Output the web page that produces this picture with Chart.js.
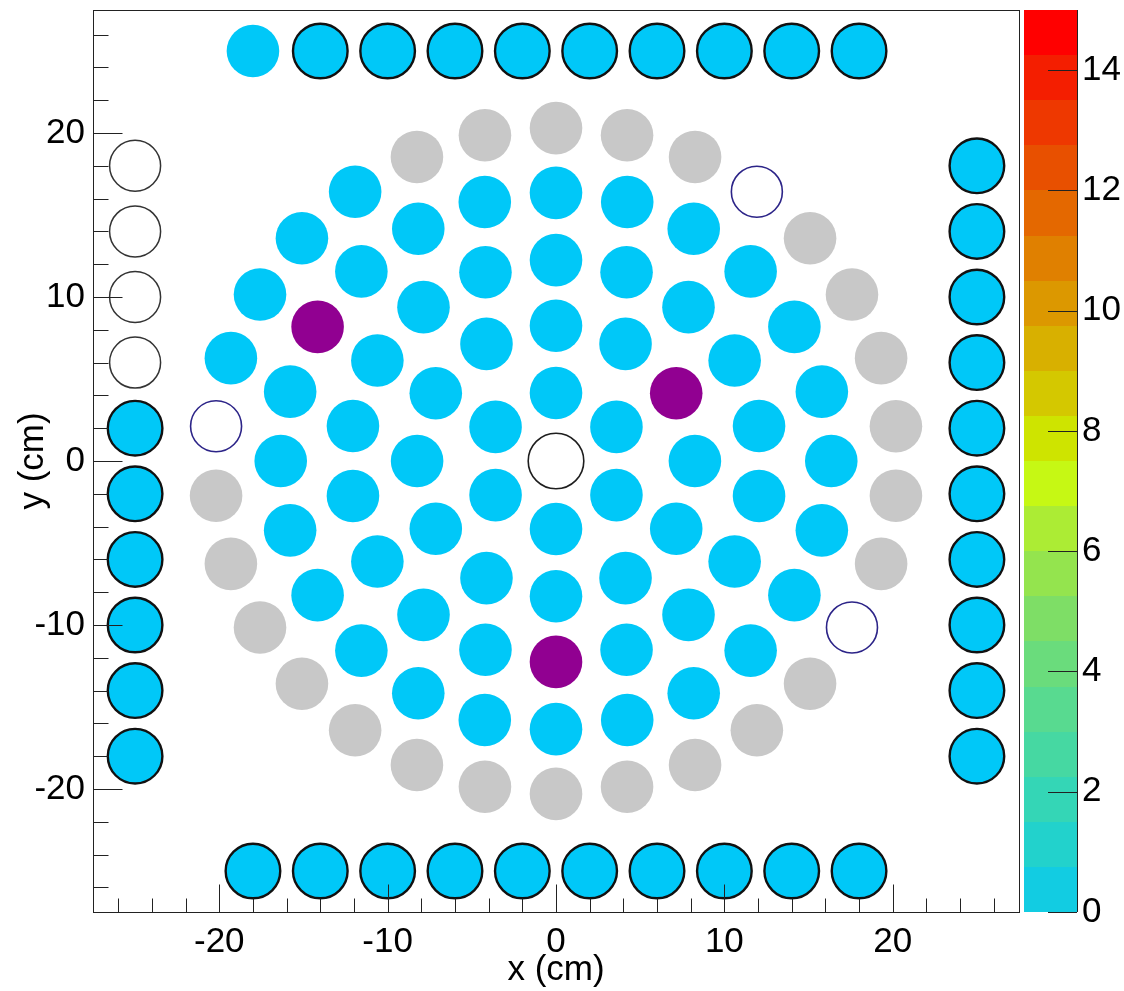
<!DOCTYPE html>
<html>
<head>
<meta charset="utf-8">
<script src="https://cdn.jsdelivr.net/npm/chart.js@4.4.1/dist/chart.umd.min.js"></script>
<style>
  html, body { margin: 0; padding: 0; background: #fff; }
</style>
</head>
<body>
<canvas id="c" width="1124" height="991"></canvas>
<script>
// pad centres (cm) and what each pad looks like, ring by ring
var ring1X = [0, -3.59, -3.59, 0, 3.59, 3.59];
var ring1Y = [4.15, 2.08, -2.08, -4.15, -2.08, 2.08];
var ring1Kind = ['cyan', 'cyan', 'cyan', 'cyan', 'cyan', 'cyan'];

var ring2X = [0, -4.13, -7.14, -8.25, -7.14, -4.13, 0, 4.13, 7.14, 8.25, 7.14, 4.13];
var ring2Y = [8.25, 7.14, 4.13, 0, -4.13, -7.14, -8.25, -7.14, -4.13, 0, 4.13, 7.14];
var ring2Kind = ['cyan', 'cyan', 'cyan', 'cyan', 'cyan', 'cyan', 'cyan', 'cyan', 'cyan', 'cyan', 'purple', 'cyan'];

var ring3X = [0, -4.19, -7.87, -10.61, -12.06, -12.06, -10.61, -7.87, -4.19, 0, 4.19, 7.87, 10.61, 12.06, 12.06, 10.61, 7.87, 4.19];
var ring3Y = [12.25, 11.51, 9.38, 6.13, 2.13, -2.13, -6.13, -9.38, -11.51, -12.25, -11.51, -9.38, -6.13, -2.13, 2.13, 6.13, 9.38, 11.51];
var ring3Kind = ['cyan', 'cyan', 'cyan', 'cyan', 'cyan', 'cyan', 'cyan', 'cyan', 'cyan', 'purple',
                 'cyan', 'cyan', 'cyan', 'cyan', 'cyan', 'cyan', 'cyan', 'cyan'];

var ring4X = [0, -4.23, -8.18, -11.56, -14.16, -15.79, -16.35, -15.79, -14.16, -11.56, -8.18, -4.23,
              0, 4.23, 8.18, 11.56, 14.16, 15.79, 16.35, 15.79, 14.16, 11.56, 8.18, 4.23];
var ring4Y = [16.35, 15.79, 14.16, 11.56, 8.18, 4.23, 0, -4.23, -8.18, -11.56, -14.16, -15.79,
              -16.35, -15.79, -14.16, -11.56, -8.18, -4.23, 0, 4.23, 8.18, 11.56, 14.16, 15.79];
var ring4Kind = ['cyan', 'cyan', 'cyan', 'cyan', 'purple', 'cyan', 'cyan', 'cyan', 'cyan', 'cyan', 'cyan', 'cyan',
                 'cyan', 'cyan', 'cyan', 'cyan', 'cyan', 'cyan', 'cyan', 'cyan', 'cyan', 'cyan', 'cyan', 'cyan'];

var ring5X = [0, -4.22, -8.26, -11.93, -15.09, -17.58, -19.31, -20.19, -20.19, -19.31, -17.58, -15.09, -11.93, -8.26, -4.22,
              0, 4.22, 8.26, 11.93, 15.09, 17.58, 19.31, 20.19, 20.19, 19.31, 17.58, 15.09, 11.93, 8.26, 4.22];
var ring5Y = [20.3, 19.86, 18.54, 16.42, 13.58, 10.15, 6.27, 2.12, -2.12, -6.27, -10.15, -13.58, -16.42, -18.54, -19.86,
              -20.3, -19.86, -18.54, -16.42, -13.58, -10.15, -6.27, -2.12, 2.12, 6.27, 10.15, 13.58, 16.42, 18.54, 19.86];
var ring5Kind = ['grey', 'grey', 'grey', 'cyan', 'cyan', 'cyan', 'cyan', 'open', 'grey', 'grey', 'grey', 'grey', 'grey', 'grey', 'grey',
                 'grey', 'grey', 'grey', 'grey', 'grey', 'open', 'grey', 'grey', 'grey', 'grey', 'grey', 'grey', 'open', 'grey', 'grey'];

var centreX = [0];
var centreY = [0];
var centreKind = ['core'];

var topRowX = [-18, -14, -10, -6, -2, 2, 6, 10, 14, 18];
var topRowY = [25, 25, 25, 25, 25, 25, 25, 25, 25, 25];
var topRowKind = ['cyan', 'framed', 'framed', 'framed', 'framed', 'framed', 'framed', 'framed', 'framed', 'framed'];

var bottomRowX = [-18, -14, -10, -6, -2, 2, 6, 10, 14, 18];
var bottomRowY = [-25, -25, -25, -25, -25, -25, -25, -25, -25, -25];
var bottomRowKind = ['framed', 'framed', 'framed', 'framed', 'framed', 'framed', 'framed', 'framed', 'framed', 'framed'];

var leftColX = [-25, -25, -25, -25, -25, -25, -25, -25, -25, -25];
var leftColY = [18, 14, 10, 6, 2, -2, -6, -10, -14, -18];
var leftColKind = ['blank', 'blank', 'blank', 'blank', 'framed', 'framed', 'framed', 'framed', 'framed', 'framed'];

var rightColX = [25, 25, 25, 25, 25, 25, 25, 25, 25, 25];
var rightColY = [18, 14, 10, 6, 2, -2, -6, -10, -14, -18];
var rightColKind = ['framed', 'framed', 'framed', 'framed', 'framed', 'framed', 'framed', 'framed', 'framed', 'framed'];

// axis ticks and colour scale
var xTicks = [-20, -10, 0, 10, 20];
var yTicks = [-20, -10, 0, 10, 20];
var zTicks = [0, 2, 4, 6, 8, 10, 12, 14];
var zMin = 0;
var zMax = 15;
var paletteColors = ['#12CCE2', '#22D2CC', '#34D6B6', '#46D8A2', '#58DA90', '#6ADC7C', '#7EDE66', '#94E44E', '#ACEC34', '#C6F814',
                     '#CEE400', '#D4C800', '#D8B000', '#DC9800', '#E08000', '#E46800', '#E85000', '#EE3800', '#F41E00', '#FF0000'];

var FONT = '"Liberation Sans", Arial, Helvetica, sans-serif';

var KIND_STYLE = {
  grey:   { fill: '#C8C8C8', line: '#C8C8C8', width: 0,   r: 26.3 },
  cyan:   { fill: '#00C8F8', line: '#00C8F8', width: 0,   r: 26.3 },
  purple: { fill: '#910091', line: '#910091', width: 0,   r: 26.3 },
  open:   { fill: '#FFFFFF', line: '#2C2488', width: 1.6, r: 25.5 },
  blank:  { fill: '#FFFFFF', line: '#333333', width: 1.5, r: 25.5 },
  core:   { fill: '#FFFFFF', line: '#1E1E1E', width: 1.6, r: 27.8 },
  framed: { fill: '#00C8F8', line: '#111111', width: 2.4, r: 27.3 }
};
var kindOrder = ['grey', 'cyan', 'purple', 'open', 'blank', 'core', 'framed'];

var groups = [
  [ring1X, ring1Y, ring1Kind], [ring2X, ring2Y, ring2Kind], [ring3X, ring3Y, ring3Kind],
  [ring4X, ring4Y, ring4Kind], [ring5X, ring5Y, ring5Kind], [centreX, centreY, centreKind],
  [topRowX, topRowY, topRowKind], [bottomRowX, bottomRowY, bottomRowKind],
  [leftColX, leftColY, leftColKind], [rightColX, rightColY, rightColKind]
];

var byKind = {};
groups.forEach(function(g) {
  g[0].forEach(function(x, i) {
    var k = g[2][i];
    (byKind[k] = byKind[k] || []).push({ x: x, y: g[1][i] });
  });
});

var datasets = kindOrder.map(function(k) {
  var s = KIND_STYLE[k];
  return {
    label: k,
    data: byKind[k] || [],
    pointStyle: 'circle',
    pointRadius: s.r,
    pointBackgroundColor: s.fill,
    pointBorderColor: s.line,
    pointBorderWidth: s.width,
    showLine: false,
    clip: false
  };
});

function fixedTicks(list) {
  return function(scale) { scale.ticks = list.map(function(v) { return { value: v }; }); };
}

// frame + inward ticks, drawn over the pads like ROOT does
var frameTicks = {
  id: 'frameTicks',
  afterDatasetsDraw: function(chart) {
    var ctx = chart.ctx, a = chart.chartArea, xs = chart.scales.x, ys = chart.scales.y;
    var l = Math.round(a.left) + 0.5, r = Math.round(a.right) + 0.5;
    var t = Math.round(a.top) + 0.5, b = Math.round(a.bottom) + 0.5;
    ctx.save();
    ctx.strokeStyle = '#222';
    ctx.lineWidth = 1;
    ctx.strokeRect(l, t, r - l, b - t);
    ctx.beginPath();
    for (var v = -26; v <= 26; v += 2) {
      var major = v % 10 === 0;
      var px = Math.round(xs.getPixelForValue(v)) + 0.5;
      ctx.moveTo(px, b);
      ctx.lineTo(px, b - (major ? 28 : 14));
      var py = Math.round(ys.getPixelForValue(v)) + 0.5;
      ctx.moveTo(l, py);
      ctx.lineTo(l + (major ? 29 : 15), py);
    }
    ctx.stroke();
    ctx.restore();
  }
};

// palette box on the z scale
var colourBar = {
  id: 'colourBar',
  afterDraw: function(chart) {
    var ctx = chart.ctx, z = chart.scales.z;
    var left = Math.round(z.left + 5), right = Math.round(z.left + 58);
    var step = (zMax - zMin) / paletteColors.length;
    ctx.save();
    paletteColors.forEach(function(c, i) {
      var y0 = Math.round(z.getPixelForValue(zMin + i * step));
      var y1 = Math.round(z.getPixelForValue(zMin + (i + 1) * step));
      ctx.fillStyle = c;
      ctx.fillRect(left, y1, right - left, y0 - y1);
    });
    ctx.strokeStyle = '#222';
    ctx.lineWidth = 1;
    ctx.beginPath();
    ctx.moveTo(right + 0.5, Math.round(z.top));
    ctx.lineTo(right + 0.5, Math.round(z.bottom));
    zTicks.forEach(function(v) {
      var py = Math.round(z.getPixelForValue(v)) + 0.5;
      ctx.moveTo(right, py);
      ctx.lineTo(right - 29, py);
    });
    ctx.stroke();
    ctx.restore();
  }
};

var tickFont = { family: FONT, size: 35 };
var titleFont = { family: FONT, size: 35 };

new Chart(document.getElementById('c'), {
  type: 'scatter',
  data: { datasets: datasets },
  options: {
    responsive: false,
    animation: false,
    events: [],
    layout: { autoPadding: false, padding: { top: 10, left: 0, right: 0, bottom: 0 } },
    plugins: { legend: { display: false }, tooltip: { enabled: false } },
    scales: {
      x: {
        type: 'linear', min: -27.5, max: 27.5,
        grid: { display: false, drawTicks: false }, border: { display: false },
        ticks: { font: tickFont, color: '#000', padding: 9, maxRotation: 0, autoSkip: false,
                 callback: function(v) { return String(v); } },
        afterBuildTicks: fixedTicks(xTicks),
        afterFit: function(s) { s.height = 79; s.paddingLeft = 0; s.paddingRight = 0; },
        title: { display: true, text: 'x (cm)', font: titleFont, color: '#000', padding: { top: 0, bottom: 0 } }
      },
      y: {
        type: 'linear', min: -27.5, max: 27.5,
        grid: { display: false, drawTicks: false }, border: { display: false },
        ticks: { font: tickFont, color: '#000', padding: 8, autoSkip: false,
                 callback: function(v) { return String(v); } },
        afterBuildTicks: fixedTicks(yTicks),
        afterFit: function(s) { s.width = 93; s.paddingTop = 0; s.paddingBottom = 0; },
        title: { display: true, text: 'y (cm)', font: titleFont, color: '#000', padding: { top: 12, bottom: 0 } }
      },
      z: {
        axis: 'y', position: 'right', type: 'linear', min: zMin, max: zMax,
        grid: { display: false, drawTicks: false }, border: { display: false },
        ticks: { font: tickFont, color: '#000', padding: 63, autoSkip: false,
                 callback: function(v) { return String(v); } },
        afterBuildTicks: fixedTicks(zTicks),
        afterFit: function(s) { s.width = 105; s.paddingTop = 0; s.paddingBottom = 0; }
      }
    }
  },
  plugins: [colourBar, frameTicks]
});
</script>
</body>
</html>
